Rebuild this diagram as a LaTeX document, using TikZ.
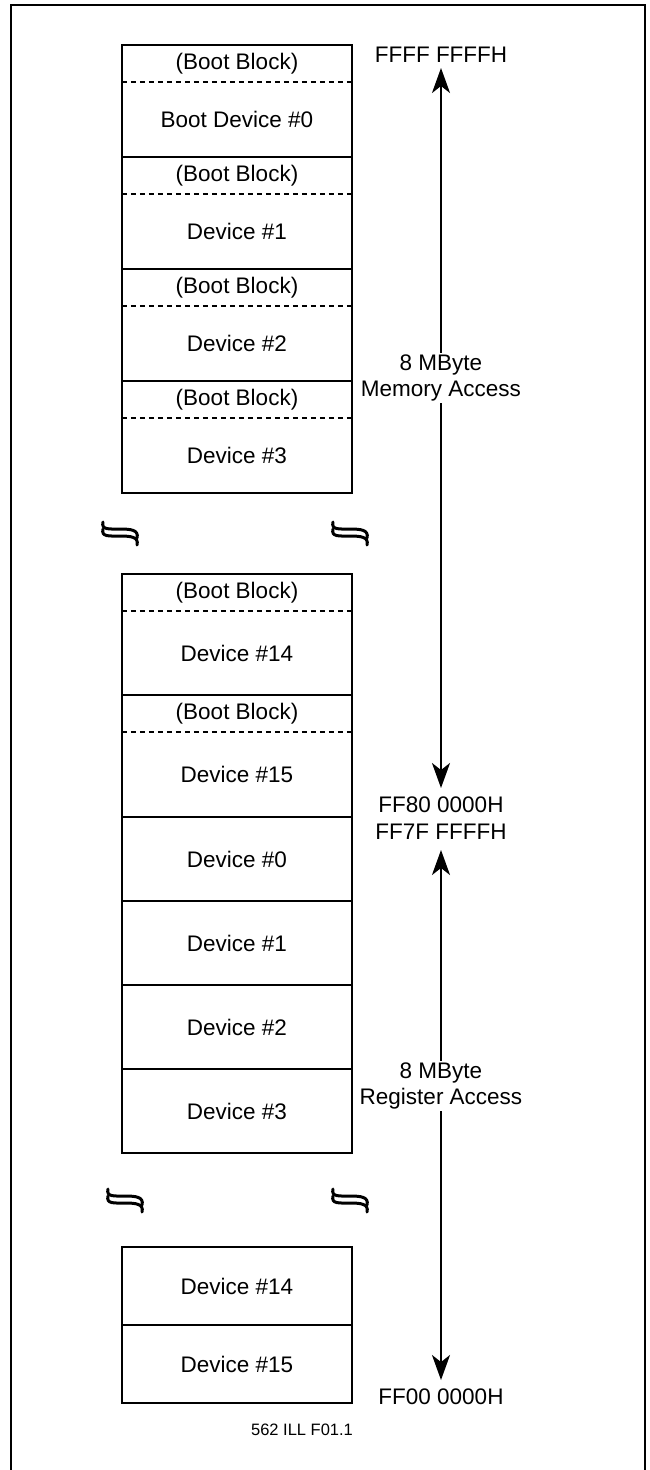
\documentclass[tikz,border=0pt]{standalone}
\usepackage{fontspec}
\setmainfont{Liberation Sans}
\usetikzlibrary{arrows.meta}

\begin{document}
\begin{tikzpicture}[x=1pt,y=-1pt]
\tikzset{
  boxline/.style={draw=black,line width=2pt,line join=miter},
  bandline/.style={draw=black,line width=1.6pt,dash pattern=on 5pt off 4pt},
  bootcell/.style={minimum width=230pt,minimum height=37pt,inner sep=0pt,font=\fontsize{22.5}{26}\selectfont},
  devcell/.style={minimum width=230pt,inner sep=0pt,font=\fontsize{22.5}{26}\selectfont},
  plaincell/.style={devcell,draw=black,line width=2pt},
  addr/.style={inner sep=1pt,font=\fontsize{22.5}{26}\selectfont},
  spanlbl/.style={align=center,inner sep=2pt,font=\fontsize{22.5}{26}\selectfont},
  span/.style={draw=black,line width=2pt,-{Stealth[length=25pt,width=18pt,inset=7pt]}},
  note/.style={inner sep=0pt,font=\fontsize{16.5}{19}\selectfont},
  breakmark/.pic={
    \draw[line width=3pt,line cap=round] (-17,-11) .. controls (-19,-3) and (-11,-4) .. (0,-4)
      .. controls (11,-4) and (19,-3) .. (17,5);
    \draw[line width=3pt,line cap=round] (-17,-4) .. controls (-19,4) and (-11,3) .. (0,3)
      .. controls (11,3) and (19,4) .. (17,12);
  }
}
\useasboundingbox (0,0) rectangle (649,1470);
\draw[line width=2.2pt] (11,1475) -- (11,5) -- (645,5) -- (645,1475);

% upper block, memory access
\node[bootcell] (ub0) at (237,63.5) {(Boot Block)};
\node[devcell,minimum height=75pt] (ud0) at (237,119.5) {Boot Device \#0};
\node[bootcell] (ub1) at (237,175.5) {(Boot Block)};
\node[devcell,minimum height=75pt] (ud1) at (237,231.5) {Device \#1};
\node[bootcell] (ub2) at (237,287.5) {(Boot Block)};
\node[devcell,minimum height=75pt] (ud2) at (237,343.5) {Device \#2};
\node[bootcell] (ub3) at (237,399.5) {(Boot Block)};
\node[devcell,minimum height=75pt] (ud3) at (237,455.5) {Device \#3};
\draw[boxline] (ub0.north west) rectangle (ud0.south east);
\draw[boxline] (ub1.north west) rectangle (ud1.south east);
\draw[boxline] (ub2.north west) rectangle (ud2.south east);
\draw[boxline] (ub3.north west) rectangle (ud3.south east);
\draw[bandline] (ub0.south west) -- (ub0.south east);
\draw[bandline] (ub1.south west) -- (ub1.south east);
\draw[bandline] (ub2.south west) -- (ub2.south east);
\draw[bandline] (ub3.south west) -- (ub3.south east);

\pic at (120,533) {breakmark};
\pic at (350,533) {breakmark};

% lower block
\node[bootcell] (lb14) at (237,592.5) {(Boot Block)};
\node[devcell,minimum height=84pt] (ld14) at (237,653) {Device \#14};
\node[bootcell] (lb15) at (237,713.5) {(Boot Block)};
\node[devcell,minimum height=85pt] (ld15) at (237,774.5) {Device \#15};
\draw[boxline] (lb14.north west) rectangle (ld14.south east);
\draw[boxline] (lb15.north west) rectangle (ld15.south east);
\draw[bandline] (lb14.south west) -- (lb14.south east);
\draw[bandline] (lb15.south west) -- (lb15.south east);
\node[plaincell,minimum height=84pt] (rd0) at (237,859) {Device \#0};
\node[plaincell,minimum height=84pt] (rd1) at (237,943) {Device \#1};
\node[plaincell,minimum height=84pt] (rd2) at (237,1027) {Device \#2};
\node[plaincell,minimum height=84pt] (rd3) at (237,1111) {Device \#3};

\pic at (125,1200) {breakmark};
\pic at (350,1200) {breakmark};

\node[plaincell,minimum height=78pt] (rd14) at (237,1286) {Device \#14};
\node[plaincell,minimum height=78pt] (rd15) at (237,1364) {Device \#15};

% address ranges
\node[addr] (a_top) at (441,55) {FFFF FFFFH};
\node[addr] (a_mid1) at (441,805) {FF80 0000H};
\node[addr] (a_mid2) at (441,832) {FF7F FFFFH};
\node[addr] (a_bot) at (441,1397) {FF00 0000H};
\coordinate (memtop) at (441,68);
\coordinate (membot) at (441,788);
\coordinate (regtop) at (441,850);
\coordinate (regbot) at (441,1380);
\node[spanlbl] (memlbl) at (441,378) {8 MByte\\Memory Access};
\node[spanlbl] (reglbl) at (441,1086) {8 MByte\\Register Access};
\draw[span] (memlbl) -- (memtop);
\draw[span] (memlbl) -- (membot);
\draw[span] (reglbl) -- (regtop);
\draw[span] (reglbl) -- (regbot);

\node[note] (figid) at (302,1430) {562 ILL F01.1};
\end{tikzpicture}
\end{document}
